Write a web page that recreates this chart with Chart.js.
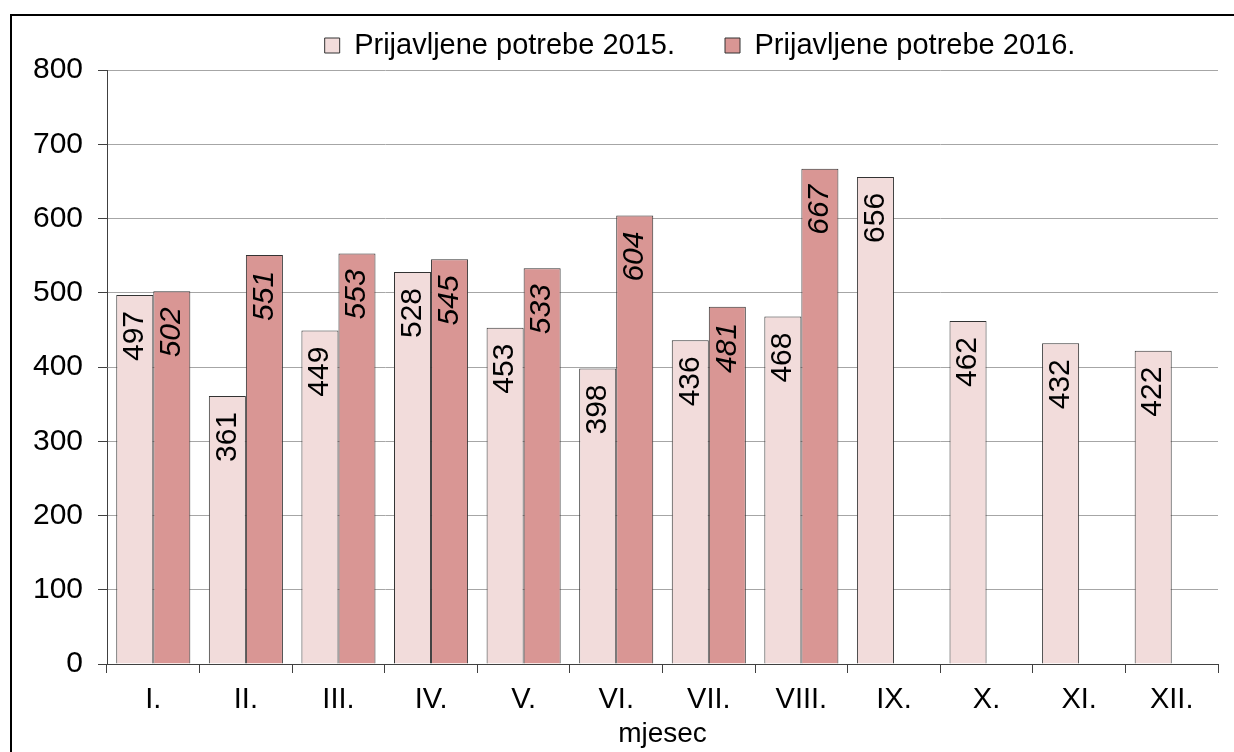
<!DOCTYPE html>
<html>
<head>
<meta charset="utf-8">
<script src="https://cdn.jsdelivr.net/npm/chart.js@4"></script>
<style>
  html, body { margin: 0; padding: 0; background: #fff; overflow: hidden; }
  #wrap { position: relative; width: 1234px; height: 752px; }
  #frame { position: absolute; left: 10px; top: 14px; right: -10px; bottom: -10px;
           border-left: 2px solid #000; border-top: 2px solid #000; pointer-events: none; }
  canvas { position: absolute; left: 0; top: 0; }
</style>
</head>
<body>
<div id="wrap">
  <canvas id="chart" width="1234" height="752"></canvas>
  <div id="frame"></div>
</div>
<script>
// --- DATA ---
const months = ['I.', 'II.', 'III.', 'IV.', 'V.', 'VI.', 'VII.', 'VIII.', 'IX.', 'X.', 'XI.', 'XII.'];
const potrebe2015 = [497, 361, 449, 528, 453, 398, 436, 468, 656, 462, 432, 422];
const potrebe2016 = [502, 551, 553, 545, 533, 604, 481, 667, null, null, null, null];
const seriesNames = ['Prijavljene potrebe 2015.', 'Prijavljene potrebe 2016.'];
const yMin = 0, yMax = 800, yStep = 100;

const FONT = '"Liberation Sans", Arial, sans-serif';
const AXIS = '#404040';

// value labels written vertically inside the top of each bar
const barLabels = {
    id: 'barLabels',
    afterDatasetsDraw(chart) {
        const ctx = chart.ctx;
        chart.data.datasets.forEach((ds, i) => {
            const meta = chart.getDatasetMeta(i);
            meta.data.forEach((bar, j) => {
                const v = ds.data[j];
                if (v == null) return;
                ctx.save();
                ctx.translate(bar.x, bar.y + 16);
                ctx.rotate(-Math.PI / 2);
                ctx.font = (i === 1 ? 'italic ' : '') + '30px ' + FONT;
                ctx.fillStyle = '#000';
                ctx.textAlign = 'right';
                ctx.textBaseline = 'middle';
                ctx.fillText(String(v), 0, 0);
                ctx.restore();
            });
        });
    }
};

// legend in the original sits right of centre
const legendShift = {
    id: 'legendShift',
    afterLayout(chart) {
        const lg = chart.legend;
        const d = 700 - (lg.left + lg.right) / 2;
        lg.left += d;
        lg.right += d;
    }
};

new Chart(document.getElementById('chart'), {
    type: 'bar',
    data: {
        labels: months,
        datasets: [
            { label: seriesNames[0], data: potrebe2015, backgroundColor: '#f2dcdb', borderColor: '#333', borderWidth: 1 },
            { label: seriesNames[1], data: potrebe2016, backgroundColor: '#d99694', borderColor: '#333', borderWidth: 1 }
        ]
    },
    options: {
        responsive: false,
        animation: false,
        layout: { padding: { left: 0, right: 16, top: -19, bottom: 0 } },
        datasets: { bar: { categoryPercentage: 0.8, barPercentage: 1 } },
        plugins: {
            legend: {
                position: 'top',
                labels: {
                    font: { family: FONT, size: 29 },
                    color: '#000',
                    boxWidth: 15, boxHeight: 15,
                    padding: 50
                }
            },
            tooltip: { enabled: false }
        },
        scales: {
            x: {
                grid: { drawOnChartArea: false, drawTicks: true, tickLength: 9, tickColor: AXIS, offset: true },
                border: { color: AXIS, width: 1 },
                ticks: { font: { family: FONT, size: 29 }, color: '#000', padding: 10, maxRotation: 0 },
                title: { display: true, text: 'mjesec', font: { family: FONT, size: 28 }, color: '#000', padding: { top: 0, bottom: 1 } },
                afterFit(scale) { scale.height = 88; }
            },
            y: {
                min: yMin, max: yMax,
                grid: { color: '#a6a6a6', lineWidth: 1, tickLength: 9, tickColor: AXIS },
                border: { color: AXIS, width: 1 },
                ticks: { stepSize: yStep, font: { family: FONT, size: 30 }, color: '#000', padding: 15 },
                afterFit(scale) { scale.width = 107; }
            }
        }
    },
    plugins: [barLabels, legendShift]
});
</script>
</body>
</html>
